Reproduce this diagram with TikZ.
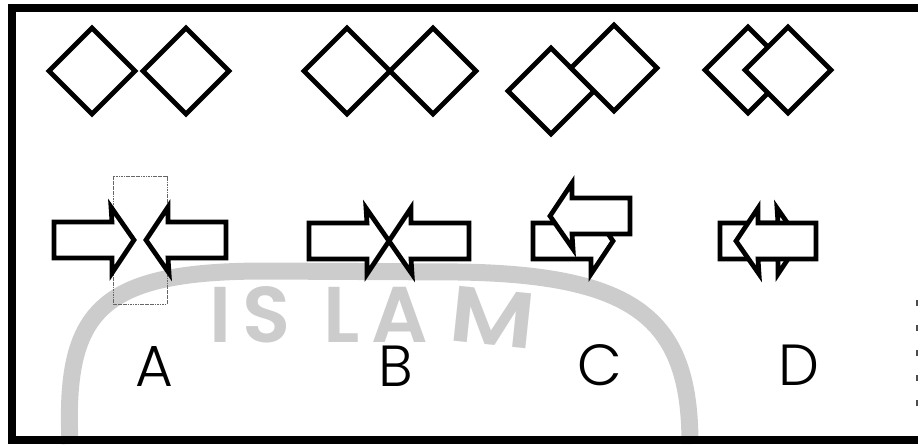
\documentclass[tikz,border=0pt]{standalone}
\usepackage{fontspec}
\newfontfamily\letrafont{Poppins}[UprightFont=* Light]
\newfontfamily\marcafont{Poppins}[UprightFont=* SemiBold]

\tikzset{
  trazo/.style={line width=2.7pt, line join=miter},
  rombo/.pic={\draw[trazo, fill=white] (-43,0) -- (0,-43) -- (43,0) -- (0,43) -- cycle;},
  flecha/.pic={\draw[trazo, fill=white] (0,0) -- (-23,-33) -- (-22,-18) -- (-80,-18) -- (-80,18) -- (-22,18) -- (-22,33) -- cycle;},
  letra/.style={font=\letrafont\fontsize{33}{40}\selectfont, inner sep=0pt},
  marca/.style={black!20, font=\marcafont\fontsize{45}{52}\selectfont, inner sep=0pt}
}

\begin{document}
\begin{tikzpicture}[x=0.02cm, y=-0.02cm] %Cuatro casos de contacto: rombos y flechas
            \useasboundingbox (0,0) rectangle (918,444);

            % marca de agua
            \draw[black!20, line width=0.34cm] (70,444) .. controls (64,312) and (98,272) .. (260,271) -- (460,272) .. controls (640,275) and (690,322) .. (690,444);
            \node[marca] (wmI) at (220,315) {I};
            \node[marca] (wmS) at (267,315) {S};
            \node[marca] (wmL) at (342,315) {L};
            \node[marca] (wmA) at (400,315) {A};
            \node[marca, rotate=-6, xscale=1.2] (wmM) at (493,318) {M};

            % marco
            \draw[line width=0.16cm] (918,8) -- (12,8) -- (12,440) -- (918,440);
            \draw[black!70, line width=0.8pt, dash pattern=on 3.4pt off 10.8pt] (917,300) -- (917,410);

            % rombos
            \coordinate (RA1) at (92,71);
            \coordinate (RA2) at (186,71);
            \coordinate (RB1) at (347,71);
            \coordinate (RB2) at (433,71);
            \coordinate (RC1) at (551,91);
            \coordinate (RC2) at (614,68);
            \coordinate (RD1) at (748,70);
            \coordinate (RD2) at (788,70);

            \pic at (RA1) {rombo};
            \pic at (RA2) {rombo};
            \pic at (RB1) {rombo};
            \pic at (RB2) {rombo};
            \pic at (RC1) {rombo};
            \pic at (RC2) {rombo};
            \pic at (RD1) {rombo};
            \pic at (RD2) {rombo};

            % flechas (punta)
            \coordinate (FA1) at (134,240);
            \coordinate (FA2) at (146,240);
            \coordinate (FB1) at (389,241);
            \coordinate (FB2) at (389,241);
            \coordinate (FC1) at (613,241);
            \coordinate (FC2) at (550,216);
            \coordinate (FD1) at (800,241);
            \coordinate (FD2) at (736,241);

            \draw[black!60, line width=0.5pt, dash pattern=on 1pt off 0.4pt] (113,176) rectangle (167,304);

            \pic at (FA1) {flecha};
            \pic[rotate=180] at (FA2) {flecha};
            \pic at (FB1) {flecha};
            \pic[rotate=180] at (FB2) {flecha};
            \pic at (FC1) {flecha};
            \pic[rotate=180] at (FC2) {flecha};
            \pic at (FD1) {flecha};
            \pic[rotate=180] at (FD2) {flecha};

            % letras
            \node[letra] (labA) at (154,366) {A};
            \node[letra] (labB) at (396,366) {B};
            \node[letra] (labC) at (600,365) {C};
            \node[letra] (labD) at (799,365) {D};
        \end{tikzpicture}
\end{document}
